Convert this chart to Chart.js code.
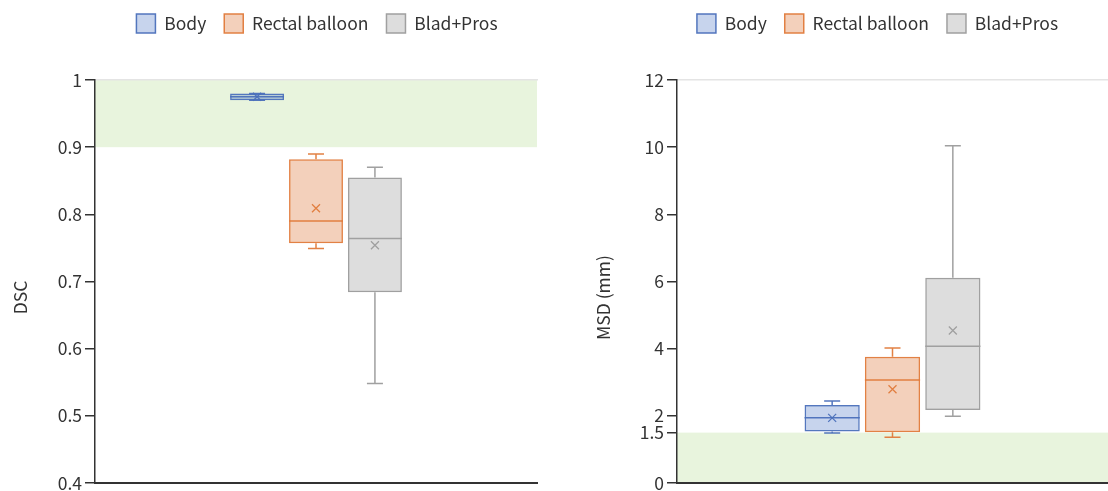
<!DOCTYPE html>
<html>
<head>
<meta charset="utf-8">
<script src="https://cdn.jsdelivr.net/npm/chart.js@4.4.1/dist/chart.umd.min.js"></script>
<style>
  html, body { margin: 0; padding: 0; background: #fff; }
  #wrap { position: relative; width: 1108px; height: 491px; overflow: hidden; }
  canvas { position: absolute; top: 0; }
  #dsc { left: 0; }
  #msd { left: 554px; }
</style>
</head>
<body>
<div id="wrap">
  <canvas id="dsc" width="554" height="491"></canvas>
  <canvas id="msd" width="554" height="491"></canvas>
</div>
<script>
// Structures
const categories = ['Body', 'Rectal balloon', 'Blad+Pros'];

// Dice similarity coefficient: five-number summary + mean
const dscMin    = [0.970, 0.749, 0.548];
const dscQ1     = [0.970, 0.757, 0.684];
const dscMedian = [0.975, 0.790, 0.764];
const dscQ3     = [0.980, 0.882, 0.855];
const dscMax    = [0.980, 0.890, 0.870];
const dscMean   = [0.975, 0.809, 0.754];
const dscTicks  = [0.4, 0.5, 0.6, 0.7, 0.8, 0.9, 1];
const dscTarget = [0.9, 1];

// Mean surface distance (mm): five-number summary + mean
const msdMin    = [1.49, 1.36, 1.99];
const msdQ1     = [1.53, 1.51, 2.17];
const msdMedian = [1.94, 3.07, 4.07];
const msdQ3     = [2.32, 3.76, 6.11];
const msdMax    = [2.44, 4.02, 10.04];
const msdMean   = [1.94, 2.79, 4.54];
const msdTicks  = [0, 1.5, 2, 4, 6, 8, 10, 12];
const msdTarget = [0, 1.5];

const fills   = ['rgba(68,114,196,0.30)', 'rgba(220,120,60,0.35)', 'rgba(165,165,165,0.38)'];
const strokes = ['rgba(75,112,186,0.95)', 'rgba(224,122,58,0.95)', 'rgba(160,160,160,1)'];

const FONT = '"Noto Sans CJK KR", "Noto Sans", sans-serif';
const FONT_SIZE = 17.5;
Chart.defaults.font.family = FONT;
Chart.defaults.font.size = FONT_SIZE;
Chart.defaults.color = '#333';

// shaded acceptance range behind the plot
const targetBand = {
  id: 'targetBand',
  beforeDraw(chart, args, opts) {
    const {ctx, chartArea} = chart;
    const y = chart.scales.y;
    const top = y.getPixelForValue(opts.range[1]);
    const bottom = y.getPixelForValue(opts.range[0]);
    ctx.save();
    ctx.fillStyle = opts.color;
    ctx.fillRect(chartArea.left, top, chartArea.right - chartArea.left, bottom - top);
    ctx.restore();
  }
};

// whiskers, median line and mean marker on top of the floating bars
const boxParts = {
  id: 'boxParts',
  afterDatasetsDraw(chart) {
    const {ctx} = chart;
    const y = chart.scales.y;
    chart.data.datasets.forEach((ds, i) => {
      const bar = chart.getDatasetMeta(i).data[0];
      const s = ds.stats;
      const cx = bar.x, hw = bar.width / 2, cap = 8, m = 4;
      const py = v => y.getPixelForValue(v);
      ctx.save();
      ctx.strokeStyle = ds.borderColor;
      ctx.lineWidth = 1.5;
      ctx.beginPath();
      ctx.moveTo(cx, py(s.q3)); ctx.lineTo(cx, py(s.max));
      ctx.moveTo(cx - cap, py(s.max)); ctx.lineTo(cx + cap, py(s.max));
      ctx.moveTo(cx, py(s.q1)); ctx.lineTo(cx, py(s.min));
      ctx.moveTo(cx - cap, py(s.min)); ctx.lineTo(cx + cap, py(s.min));
      ctx.moveTo(cx - hw, py(s.median)); ctx.lineTo(cx + hw, py(s.median));
      ctx.stroke();
      ctx.lineWidth = 1.3;
      const my = py(s.mean);
      ctx.beginPath();
      ctx.moveTo(cx - m, my - m); ctx.lineTo(cx + m, my + m);
      ctx.moveTo(cx - m, my + m); ctx.lineTo(cx + m, my - m);
      ctx.stroke();
      ctx.restore();
    });
  }
};

// horizontal nudge of the legend row
const legendShift = {
  id: 'legendShift',
  afterLayout(chart, args, opts) {
    const lg = chart.legend;
    if (lg && opts.dx) { lg.left += opts.dx; lg.right += opts.dx; }
  }
};

// rotated y-axis caption
const axisCaption = {
  id: 'axisCaption',
  afterDraw(chart, args, opts) {
    const {ctx, chartArea} = chart;
    ctx.save();
    ctx.font = FONT_SIZE + 'px ' + FONT;
    ctx.fillStyle = '#333';
    ctx.textAlign = 'center';
    ctx.textBaseline = 'middle';
    ctx.translate(opts.x, (chartArea.top + chartArea.bottom) / 2 + opts.dy);
    ctx.rotate(-Math.PI / 2);
    ctx.fillText(opts.text, 0, 0);
    ctx.restore();
  }
};

function buildDatasets(min, q1, median, q3, max, mean) {
  return categories.map((name, i) => ({
    label: name,
    data: [[q1[i], q3[i]]],
    stats: {min: min[i], q1: q1[i], median: median[i], q3: q3[i], max: max[i], mean: mean[i]},
    backgroundColor: fills[i],
    borderColor: strokes[i],
    borderWidth: 1.5,
    borderSkipped: false
  }));
}

function makeChart(id, cfg) {
  return new Chart(document.getElementById(id), {
    type: 'bar',
    data: { labels: [''], datasets: cfg.datasets },
    options: {
      responsive: false,
      animation: false,
      devicePixelRatio: 1,
      categoryPercentage: cfg.catPct,
      barPercentage: 0.915,
      layout: { padding: { top: -4, left: 0, right: cfg.padRight, bottom: 8 } },
      plugins: {
        legend: {
          position: 'top',
          fullSize: false,
          labels: { boxWidth: 19, boxHeight: 19, padding: 18, color: '#333', font: { size: FONT_SIZE } }
        },
        tooltip: { enabled: false },
        targetBand: { range: cfg.band, color: '#e8f4dd' },
        legendShift: { dx: cfg.legendDx },
        axisCaption: { text: cfg.title, x: cfg.titleX, dy: 16 }
      },
      scales: {
        x: {
          grid: { display: false },
          ticks: { display: false },
          border: { display: true, color: '#333', width: 2 },
          afterFit: s => { s.height = 0; }
        },
        x2: {
          position: 'top',
          type: 'category',
          labels: [''],
          grid: { display: false },
          ticks: { display: false },
          border: { display: true, color: '#e4e4e4', width: 1.5 },
          afterFit: s => { s.height = 37; }
        },
        y: {
          min: cfg.ticks[0],
          max: cfg.ticks[cfg.ticks.length - 1],
          afterBuildTicks: s => { s.ticks = cfg.ticks.map(v => ({ value: v })); },
          afterFit: s => { s.width = cfg.axisWidth; s.paddingTop = 0; s.paddingBottom = 0; },
          ticks: { color: '#333', padding: 3, font: { size: FONT_SIZE }, callback: v => String(v) },
          grid: { display: true, drawOnChartArea: false, tickLength: 10, tickColor: '#333', lineWidth: 1.5 },
          border: { display: true, color: '#333', width: 1.5 },
          title: { display: false }
        }
      }
    },
    plugins: [targetBand, boxParts, legendShift, axisCaption]
  });
}

makeChart('dsc', {
  datasets: buildDatasets(dscMin, dscQ1, dscMedian, dscQ3, dscMax, dscMean),
  ticks: dscTicks, band: dscTarget, title: 'DSC', titleX: 20, legendDx: 1,
  axisWidth: 95, padRight: 17, catPct: 0.40
});

makeChart('msd', {
  datasets: buildDatasets(msdMin, msdQ1, msdMedian, msdQ3, msdMax, msdMean),
  ticks: msdTicks, band: msdTarget, title: 'MSD (mm)', titleX: 49, legendDx: -15,
  axisWidth: 123, padRight: 0, catPct: 0.42
});
</script>
</body>
</html>
